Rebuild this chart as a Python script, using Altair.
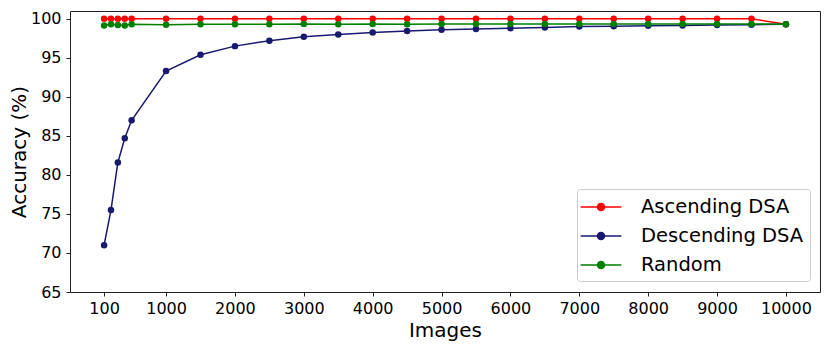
import altair as alt
import pandas as pd

images = [100, 200, 300, 400, 500, 1000, 1500, 2000, 2500, 3000, 3500, 4000,
          4500, 5000, 5500, 6000, 6500, 7000, 7500, 8000, 8500, 9000, 9500, 10000]
ascending = [100.0, 100.0, 100.0, 100.0, 100.0, 100.0, 100.0, 100.0, 100.0, 100.0, 100.0, 100.0,
             100.0, 100.0, 100.0, 100.0, 100.0, 100.0, 100.0, 100.0, 100.0, 100.0, 100.0, 99.3]
descending = [71.0, 75.5, 81.6, 84.7, 87.0, 93.3, 95.4, 96.5, 97.2, 97.7, 98.0, 98.25,
              98.45, 98.6, 98.7, 98.8, 98.9, 99.0, 99.05, 99.1, 99.15, 99.2, 99.25, 99.3]
random_ = [99.15, 99.3, 99.2, 99.15, 99.3, 99.25, 99.3, 99.3, 99.3, 99.35, 99.3, 99.35,
           99.3, 99.35, 99.35, 99.35, 99.35, 99.35, 99.35, 99.35, 99.35, 99.35, 99.35, 99.3]

series_names = ["Ascending DSA", "Descending DSA", "Random"]
series_colors = ["#ff0000", "#191970", "#008000"]
x_ticks = [100, 1000, 2000, 3000, 4000, 5000, 6000, 7000, 8000, 9000, 10000]
y_ticks = [65, 70, 75, 80, 85, 90, 95, 100]

rows = []
for name, vals in zip(series_names, [ascending, descending, random_]):
    for xv, yv in zip(images, vals):
        rows.append({"Images": xv, "Accuracy": yv, "Series": name})
df = pd.DataFrame(rows)

color = alt.Color(
    "Series:N",
    scale=alt.Scale(domain=series_names, range=series_colors),
    legend=alt.Legend(
        title=None,
        orient="none",
        legendX=507,
        legendY=178,
        symbolType="M-1.85,0L1.85,0M-0.32,0A0.32,0.32 0 1,1 0.32,0A0.32,0.32 0 1,1 -0.32,0Z",
        symbolSize=484,
        symbolStrokeWidth=1.5,
        symbolOffset=6,
        symbolOpacity=1,
        labelOffset=28,
        labelFontSize=19.5,
        labelColor="black",
        labelFont="DejaVu Sans",
        labelLimit=400,
        rowPadding=7,
        padding=6,
        strokeColor="#cccccc",
        fillColor="white",
        cornerRadius=3,
    ),
)

x = alt.X(
    "Images:Q",
    scale=alt.Scale(domain=[-395, 10495], nice=False, zero=False),
    axis=alt.Axis(values=x_ticks, title="Images", format="d"),
)
y = alt.Y(
    "Accuracy:Q",
    scale=alt.Scale(domain=[65, 101], nice=False, zero=False),
    axis=alt.Axis(values=y_ticks, title="Accuracy (%)"),
)

layers = []
for name in series_names:
    layers.append(
        alt.Chart(df)
        .transform_filter(alt.datum.Series == name)
        .mark_line(strokeWidth=1.5, point=alt.OverlayMarkDef(filled=True, size=42, opacity=1))
        .encode(x=x, y=y, color=color)
    )

chart = (
    alt.layer(*layers)
    .properties(
        width=750,
        height=281,
        autosize=alt.AutoSizeParams(type="none"),
        padding={"left": 62, "top": 3, "right": 3, "bottom": 50},
    )
    .configure(font="DejaVu Sans")
    .configure_view(stroke="#222222", strokeWidth=1)
    .configure_axis(
        grid=False,
        domain=False,
        tickColor="#222222",
        tickSize=4,
        labelFontSize=16,
        labelColor="black",
        titleFontSize=20,
        titleFontWeight="normal",
        titleColor="black",
        labelFont="DejaVu Sans",
        titleFont="DejaVu Sans",
    )
    .configure_axisX(labelPadding=4, titlePadding=4, labelFlush=False)
    .configure_axisY(labelPadding=5, titlePadding=1)
)

chart.save("out.html", embed_options={"renderer": "svg", "actions": False})
